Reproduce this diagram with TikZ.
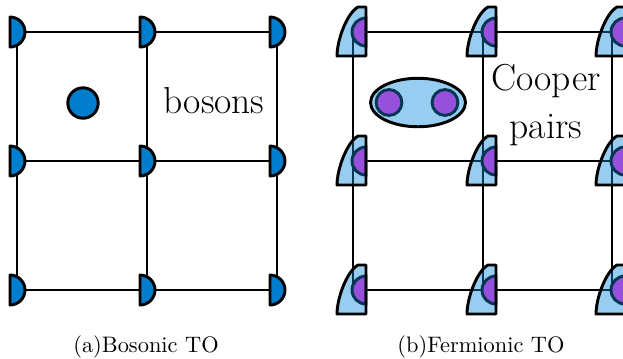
\documentclass[tikz,border=0pt]{standalone}
\usetikzlibrary{shapes.geometric}
\definecolor{bosblue}{RGB}{0,125,205}
\definecolor{ltblue}{RGB}{150,205,240}
\definecolor{fpurple}{RGB}{150,80,220}
\definecolor{dteal}{RGB}{5,55,85}
\newcommand\fermshape{(-16,24) .. controls (-16,8) and (-6,-19) .. (5,-25) -- (13,-25) -- (13,24) -- cycle}
\begin{document}
\begin{tikzpicture}[x=0.46pt,y=-0.46pt,
  gridline/.style={line width=1.35pt,line cap=round},
  bosvert/.style={fill=bosblue,draw=black,line width=1.35pt,line join=round},
  bosdot/.style={circle,fill=bosblue,draw=black,line width=1.35pt,minimum size=14pt,inner sep=0pt},
  pairbox/.style={ellipse,fill=ltblue,draw=black,line width=1.35pt,minimum width=43.7pt,minimum height=22.3pt,inner sep=0pt},
  fermdot/.style={circle,fill=fpurple,draw=dteal,line width=1.35pt,minimum size=11.9pt,inner sep=0pt},
  label/.style={font=\LARGE,inner sep=0pt,anchor=base},
  caption/.style={font=\fontsize{10.3pt}{12pt}\selectfont,inner sep=0pt,anchor=base}]
\useasboundingbox (0,0) rectangle (623,358);
% lattice coordinates
\foreach \i/\x in {1/17,2/147,3/277}
  \foreach \j/\y in {1/32,2/161,3/290}
    {\coordinate (b\i\j) at (\x,\y);}
\foreach \i/\x in {1/353,2/483,3/612}
  \foreach \j/\y in {1/32,2/161,3/290}
    {\coordinate (f\i\j) at (\x,\y);}
% grid lines
\foreach \p in {b,f}{
  \foreach \j in {1,2,3}{
    \draw[gridline] (\p1\j) -- (\p2\j) -- (\p3\j);
    \draw[gridline] (\p\j1) -- (\p\j2) -- (\p\j3);
  }
}
% bosonic vertices
\foreach \i in {1,2,3}
  \foreach \j in {1,2,3}
    {\filldraw[bosvert,shift={(b\i\j)}] (-7,-15) arc[start angle=-90,end angle=90,radius=15] -- cycle;}
% fermionic vertices
\foreach \i in {1,2,3}
  \foreach \j in {1,2,3}{
    \begin{scope}[shift={(f\i\j)}]
      \fill[ltblue] \fermshape;
      \begin{scope}
        \clip \fermshape;
        \foreach \k in {1,2,3}{
          \draw[gridline,draw=dteal] (f1\k) -- (f2\k) -- (f3\k);
          \draw[gridline,draw=dteal] (f\k1) -- (f\k2) -- (f\k3);
        }
      \end{scope}
      \filldraw[fill=fpurple,draw=dteal,line width=1.35pt] (13,-14) arc[start angle=-90,end angle=-270,radius=14] -- cycle;
      \draw[line width=1.35pt,line join=round] \fermshape;
    \end{scope}
  }
% particles
\node[bosdot] (boson) at (83,103) {};
\node[pairbox] (pair) at (418,102.5) {};
\node[fermdot] (e1) at (389,102.5) {};
\node[fermdot] (e2) at (445,102.5) {};
% labels
\node[label] (bl) at (214,113) {bosons};
\node[label] (cl) at (546,90) {Cooper};
\node[label] (pl) at (546,138) {pairs};
\node[caption] (ca) at (146,352) {(a)Bosonic TO};
\node[caption] (cb) at (481,352) {(b)Fermionic TO};
\end{tikzpicture}
\end{document}
